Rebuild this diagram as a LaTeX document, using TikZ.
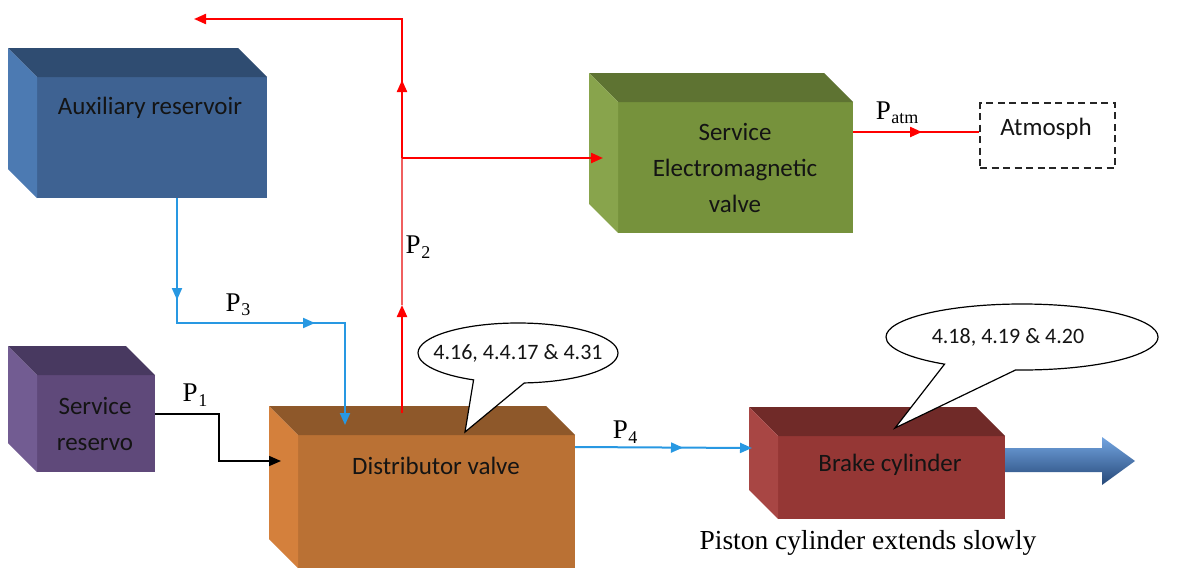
\documentclass[tikz,border=0pt]{standalone}
\usepackage{fontspec}
\setmainfont{Liberation Serif}
\newfontfamily\calfont{Carlito}
\usetikzlibrary{arrows.meta,decorations.markings,shapes.callouts,calc}

\definecolor{auxF}{RGB}{62,98,146}
\definecolor{auxT}{RGB}{47,76,113}
\definecolor{auxL}{RGB}{76,122,178}
\definecolor{emvF}{RGB}{118,146,60}
\definecolor{emvT}{RGB}{94,115,50}
\definecolor{emvL}{RGB}{136,164,76}
\definecolor{srF}{RGB}{95,73,122}
\definecolor{srT}{RGB}{72,57,96}
\definecolor{srL}{RGB}{114,92,146}
\definecolor{dvF}{RGB}{186,113,52}
\definecolor{dvT}{RGB}{142,88,42}
\definecolor{dvL}{RGB}{212,128,60}
\definecolor{bcF}{RGB}{149,55,53}
\definecolor{bcT}{RGB}{112,42,40}
\definecolor{bcL}{RGB}{168,70,68}
\definecolor{lineblue}{RGB}{40,152,226}
\definecolor{pinkred}{RGB}{240,95,95}
\definecolor{arrL}{RGB}{115,165,225}
\definecolor{arrM}{RGB}{79,129,189}
\definecolor{arrD}{RGB}{38,72,120}
\definecolor{txt}{RGB}{20,20,20}

\newcommand\drawcube[5]{%
  \node[face, fill=#5F, minimum width=#3, minimum height=#4] (#1) at (#2) {};
  \fill[#5T] (#1.north west) -- ++(-29,-29) -- ($(#1.north east)+(-29,-29)$) -- (#1.north east) -- cycle;
  \fill[#5L] (#1.north west) -- ++(-29,-29) -- ($(#1.south west)+(-29,-29)$) -- (#1.south west) -- cycle;
}
\newcommand\psub[1]{P\kern0.5pt\raisebox{-0.35ex}{\fontsize{18}{18}\selectfont #1}}

\tikzset{
  tri/.tip={Triangle[length=12pt,width=10pt]},
  face/.style={rectangle, draw=none, inner sep=0pt, outer sep=0pt},
  boxtext/.style={font=\calfont\fontsize{25}{36}\selectfont, text=txt, align=center},
  ctext/.style={font=\calfont\fontsize{22}{26}\selectfont, text=txt},
  plabel/.style={font=\fontsize{27}{30}\selectfont, text=black},
  redl/.style={draw=red, line width=2.2pt},
  bluel/.style={draw=lineblue, line width=2pt},
  blackl/.style={draw=black, line width=1.6pt},
  midtip/.style={postaction={decorate, decoration={markings, mark=at position #1 with {\arrow{tri}}}}},
  bubble/.style={ellipse callout, draw=black, fill=white, line width=1.2pt, inner sep=0pt},
}

\begin{document}
\begin{tikzpicture}[x=1pt, y=-1pt]
\useasboundingbox (0,0) rectangle (1177,568);

% boxes
\drawcube{aux}{152,137.5}{230pt}{121pt}{aux}
\drawcube{emv}{735.5,167.5}{235pt}{131pt}{emv}
\drawcube{sr}{96,423.5}{118pt}{97pt}{sr}
\drawcube{dv}{436.5,501.5}{277pt}{133pt}{dv}
\drawcube{bc}{891.5,477.5}{227pt}{83pt}{bc}

\node[boxtext] (auxt) at (150,108) {Auxiliary reservoir};
\node[boxtext] (emvt) at (735,168) {Service\\Electromagnetic\\valve};
\node[boxtext] (srt) at (95,424) {Service\\reservo};
\node[boxtext] (dvt) at (436,466) {Distributor valve};
\node[boxtext] (bct) at (890,465) {Brake cylinder};

% atmosphere
\node[draw=black!85, dash pattern=on 7pt off 4.5pt, line width=1.6pt, minimum width=135pt, minimum height=65pt, inner sep=0pt] (atm) at (1047.5,135.5) {};
\node[boxtext] (atmt) at (1046,129) {Atmosph};

% ports
\coordinate (auxOut) at ($(aux.south west)+(140,0)$);
\coordinate (dvIn) at (345,425);
\coordinate (p3turn) at (177,323);
\coordinate (srOut) at ($(sr.east)+(0,-9.5)$);
\coordinate (dvLeft) at (281,461);
\coordinate (dvR) at (402,413);
\coordinate (redA) at (402,305);
\coordinate (redB) at (402,158);
\coordinate (topleft) at (194,19);
\coordinate (emvIn) at ($(emv.west)+(-15,-9.5)$);
\coordinate (emvOut) at ($(emv.north east)+(0,30)$);
\coordinate (dvOut) at ($(dv.north east)+(0,12)$);
\coordinate (bcIn) at (752,448);

% connectors
\draw[bluel, midtip=102pt, midtip=263pt, -tri] (auxOut) -- (p3turn) -- (p3turn -| dvIn) -- (dvIn);
\draw[blackl, -tri] (srOut) -- ++(64,0) |- (dvLeft);
\draw[redl, -tri] (dvR) -- (redA);
\draw[draw=pinkred, line width=2.2pt] (redA) -- (redB);
\draw[redl, midtip=78pt, -tri] (redB) -- (redB |- topleft) -- (topleft);
\draw[redl, -tri] (redB) -- (emvIn);
\draw[redl, midtip=69pt] (emvOut) -- (atm.west |- emvOut);
\draw[bluel, midtip=108pt, -tri] (dvOut) -- (bcIn);

% labels
\node[plabel] (l1) at (195,395) {\psub{1}};
\node[plabel] (l2) at (418,247) {\psub{2}};
\node[plabel] (l3) at (238,305) {\psub{3}};
\node[plabel] (l4) at (625,432) {\psub{4}};
\node[plabel] (la) at (897,113) {\psub{atm}};

% callouts
\node[bubble, minimum width=200pt, minimum height=60pt, callout absolute pointer={(465,432)}, callout pointer arc=30] (c1) at (518,353) {};
\node[ctext] (c1t) at (c1.center) {4.16, 4.4.17 \& 4.31};
\node[bubble, minimum width=272pt, minimum height=66pt, callout absolute pointer={(895,428)}, callout pointer arc=32] (c2) at (1022,337) {};
\node[ctext] (c2t) at (1008,337) {4.18, 4.19 \& 4.20};

% big arrow
\shade[top color=arrL, middle color=arrM, bottom color=arrD] ($(bc.north east)+(0,12)$) -- ++(97,0) -- ++(0,-11) -- ++(33,24) -- ++(-33,24) -- ++(0,-13) -- ++(-97,0) -- cycle;

\node[font=\fontsize{27.5}{30}\selectfont] (pt) at (868,543) {Piston cylinder extends slowly};
\end{tikzpicture}
\end{document}
